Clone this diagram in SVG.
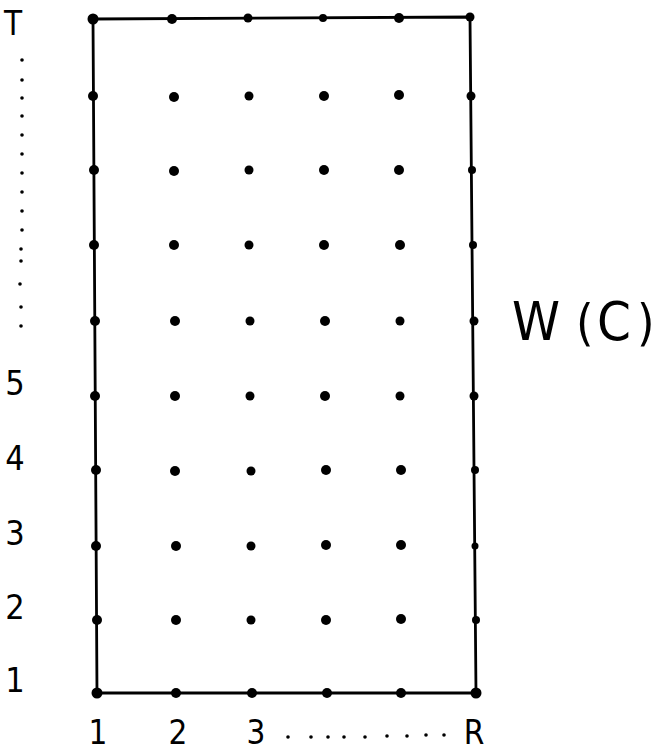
<svg xmlns="http://www.w3.org/2000/svg" width="662" height="752" viewBox="0 0 662 752">
<style>
.lbl{font-family:"DejaVu Sans Condensed","Liberation Sans",sans-serif;fill:#000}
.d{fill:#000}
.s{fill:#000}
</style>
<rect width="662" height="752" fill="#fff"/>
<g id="frame">
<polygon points="93,19 470,17 476,693 97,693" fill="none" stroke="#000" stroke-width="2.8"/>
</g>
<g id="border-dots" class="d">
<circle cx="93" cy="19" r="5.5"/><circle cx="172" cy="19" r="5"/><circle cx="248" cy="18" r="4.5"/><circle cx="323" cy="18" r="4"/><circle cx="399" cy="18" r="5"/><circle cx="470" cy="17" r="4.5"/>
<circle cx="97" cy="693" r="5.5"/><circle cx="176" cy="693" r="5"/><circle cx="252" cy="693" r="5"/><circle cx="327" cy="693" r="5"/><circle cx="401" cy="693" r="5"/><circle cx="476" cy="693" r="5.5"/>
<circle cx="93" cy="96" r="5"/><circle cx="94" cy="170" r="5"/><circle cx="94" cy="245" r="5"/><circle cx="95" cy="321" r="5"/><circle cx="95" cy="396" r="5"/><circle cx="96" cy="470" r="5"/><circle cx="96" cy="546" r="5"/><circle cx="97" cy="620" r="5"/>
<circle cx="471" cy="96" r="4.5"/><circle cx="472" cy="170" r="4"/><circle cx="473" cy="245" r="4"/><circle cx="474" cy="321" r="4.5"/><circle cx="474" cy="396" r="4.5"/><circle cx="475" cy="470" r="4"/><circle cx="475" cy="546" r="3.5"/><circle cx="476" cy="620" r="4"/>
</g>
<g id="grid-dots" class="d">
<circle cx="174" cy="97" r="5"/><circle cx="249" cy="96" r="4.5"/><circle cx="324" cy="96" r="5"/><circle cx="399" cy="95" r="5"/>
<circle cx="174" cy="171" r="5"/><circle cx="249" cy="170" r="4.5"/><circle cx="324" cy="170" r="5"/><circle cx="399" cy="170" r="5"/>
<circle cx="174" cy="245" r="5"/><circle cx="249" cy="245" r="4.5"/><circle cx="324" cy="245" r="5"/><circle cx="400" cy="245" r="5"/>
<circle cx="175" cy="321" r="5"/><circle cx="250" cy="321" r="4.5"/><circle cx="325" cy="321" r="5"/><circle cx="400" cy="321" r="4.5"/>
<circle cx="175" cy="396" r="5"/><circle cx="250" cy="396" r="4.5"/><circle cx="325" cy="396" r="5"/><circle cx="400" cy="396" r="4.5"/>
<circle cx="175" cy="471" r="5"/><circle cx="251" cy="471" r="4.5"/><circle cx="326" cy="470" r="5"/><circle cx="401" cy="470" r="5"/>
<circle cx="176" cy="546" r="5"/><circle cx="251" cy="546" r="4.5"/><circle cx="326" cy="545" r="5"/><circle cx="401" cy="545" r="5"/>
<circle cx="176" cy="620" r="5"/><circle cx="251" cy="620" r="4.5"/><circle cx="326" cy="620" r="5"/><circle cx="401" cy="619" r="5"/>
</g>
<g id="left-axis">
<text class="lbl" x="13" y="35" font-size="33" text-anchor="middle">T</text>
<g class="s">
<circle cx="22" cy="60" r="1.8"/><circle cx="22" cy="80" r="1.8"/><circle cx="22" cy="98" r="1.8"/><circle cx="22" cy="116" r="1.8"/><circle cx="22" cy="135" r="1.8"/><circle cx="22" cy="154" r="1.8"/><circle cx="22" cy="173" r="1.8"/><circle cx="22" cy="192" r="1.8"/><circle cx="22" cy="211" r="1.8"/><circle cx="22" cy="230" r="1.8"/><circle cx="21" cy="249" r="1.8"/><circle cx="21" cy="261" r="1.8"/><circle cx="20" cy="284" r="1.8"/><circle cx="21" cy="307" r="1.8"/><circle cx="21" cy="326" r="1.8"/>
</g>
<text class="lbl" x="15" y="395" font-size="34" text-anchor="middle">5</text>
<text class="lbl" x="15" y="470" font-size="34" text-anchor="middle">4</text>
<text class="lbl" x="15" y="545" font-size="34" text-anchor="middle">3</text>
<text class="lbl" x="15" y="619" font-size="34" text-anchor="middle">2</text>
<text class="lbl" x="15" y="692" font-size="34" text-anchor="middle">1</text>
</g>
<g id="bottom-axis">
<text class="lbl" x="98" y="744" font-size="33" text-anchor="middle">1</text>
<text class="lbl" x="178" y="744" font-size="33" text-anchor="middle">2</text>
<text class="lbl" x="256" y="744" font-size="33" text-anchor="middle">3</text>
<g class="s">
<circle cx="288" cy="737" r="1.8"/><circle cx="311" cy="737" r="1.8"/><circle cx="328" cy="737" r="1.8"/><circle cx="344" cy="737" r="1.8"/><circle cx="365" cy="737" r="1.8"/><circle cx="387" cy="736" r="1.8"/><circle cx="407" cy="736" r="1.8"/><circle cx="426" cy="735" r="1.8"/><circle cx="444" cy="735" r="1.8"/>
</g>
<text class="lbl" x="474" y="744" font-size="33" text-anchor="middle">R</text>
</g>
<g id="label-wc">
<text class="lbl" x="512" y="340" font-size="54">W</text>
<text class="lbl" x="576" y="340" font-size="50">(</text>
<text class="lbl" x="597" y="340" font-size="54">C</text>
<text class="lbl" x="637" y="340" font-size="50">)</text>
</g>
</svg>
